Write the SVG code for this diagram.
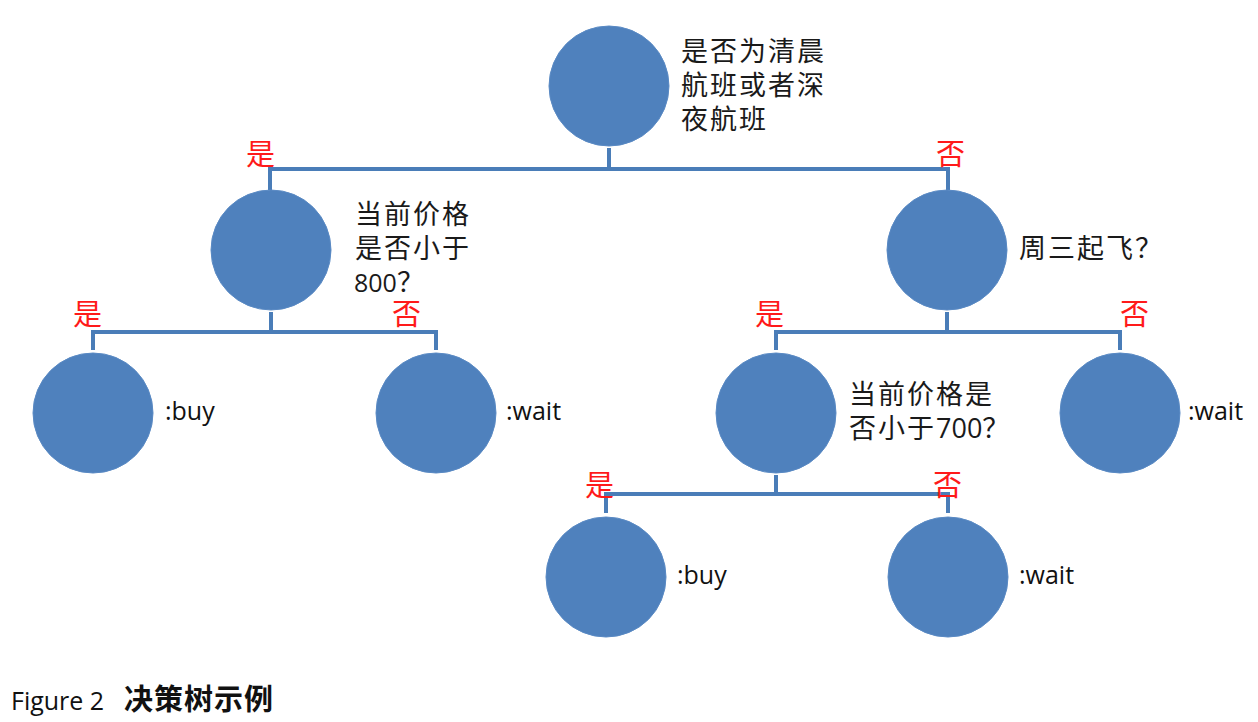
<svg xmlns="http://www.w3.org/2000/svg" width="1258" height="722" viewBox="0 0 1258 722">
<style>
.n{fill:#4F81BD;stroke:#5A8AC4;stroke-width:1}
.c{fill:none;stroke:#4A7DB8;stroke-width:4}
.t{font-family:"Noto Sans CJK SC",sans-serif;font-size:27px;letter-spacing:2px;fill:#1a1a1a}
.l{font-family:"Open Sans","Noto Sans CJK SC",sans-serif;font-size:25px;fill:#111}
.r{font-family:"Noto Sans CJK SC",sans-serif;font-size:29px;fill:#FF1A1A}
.a{font-family:"Open Sans",sans-serif;letter-spacing:0}
</style>
<rect width="1258" height="722" fill="#fff"/>
<g id="connectors">
<path class="c" d="M609 148V169M270 190V169H948V190"/>
<path class="c" d="M271 312V332M93 350V332H436V350"/>
<path class="c" d="M947 312V332M776 350V332H1120V350"/>
<path class="c" d="M776 475V494M606 513V494H948V513"/>
</g>
<g id="branch-labels">
<text class="r" x="246" y="165">是</text>
<text class="r" x="936" y="165">否</text>
<text class="r" x="73" y="325">是</text>
<text class="r" x="392" y="325">否</text>
<text class="r" x="755" y="325">是</text>
<text class="r" x="1120" y="325">否</text>
<text class="r" x="585" y="496">是</text>
<text class="r" x="933" y="496">否</text>
</g>
<g id="root">
<circle class="n" cx="609" cy="86" r="60"/>
<text class="t"><tspan x="681" y="61">是否为清晨</tspan><tspan x="681" y="95">航班或者深</tspan><tspan x="681" y="129">夜航班</tspan></text>
</g>
<g id="price800">
<circle class="n" cx="271" cy="250" r="60"/>
<text class="t"><tspan x="355" y="224">当前价格</tspan><tspan x="355" y="258">是否小于</tspan><tspan x="354" y="292"><tspan class="a" style="font-size:25px">800</tspan>？</tspan></text>
</g>
<g id="wednesday">
<circle class="n" cx="947" cy="250" r="60"/>
<text class="t" x="1019" y="258">周三起飞？</text>
</g>
<g id="buy1">
<circle class="n" cx="93" cy="413" r="60"/>
<text class="l" x="165" y="420">:buy</text>
</g>
<g id="wait1">
<circle class="n" cx="436" cy="413" r="60"/>
<text class="l" x="506" y="420">:wait</text>
</g>
<g id="price700">
<circle class="n" cx="776" cy="413" r="60"/>
<text class="t"><tspan x="849" y="404">当前价格是</tspan><tspan x="849" y="438">否小于<tspan class="a">700</tspan>？</tspan></text>
</g>
<g id="wait2">
<circle class="n" cx="1120" cy="413" r="60"/>
<text class="l" x="1188" y="420">:wait</text>
</g>
<g id="buy2">
<circle class="n" cx="606" cy="577" r="60"/>
<text class="l" x="677" y="584">:buy</text>
</g>
<g id="wait3">
<circle class="n" cx="948" cy="577" r="60"/>
<text class="l" x="1019" y="584">:wait</text>
</g>
<g id="caption">
<text y="710" style="font-family:'Open Sans',sans-serif;font-size:25px;fill:#111"><tspan x="11">Figure 2</tspan><tspan x="124" style="font-family:'Noto Sans CJK SC',sans-serif;font-weight:bold;font-size:29px;letter-spacing:1px">决策树示例</tspan></text>
</g>
</svg>
